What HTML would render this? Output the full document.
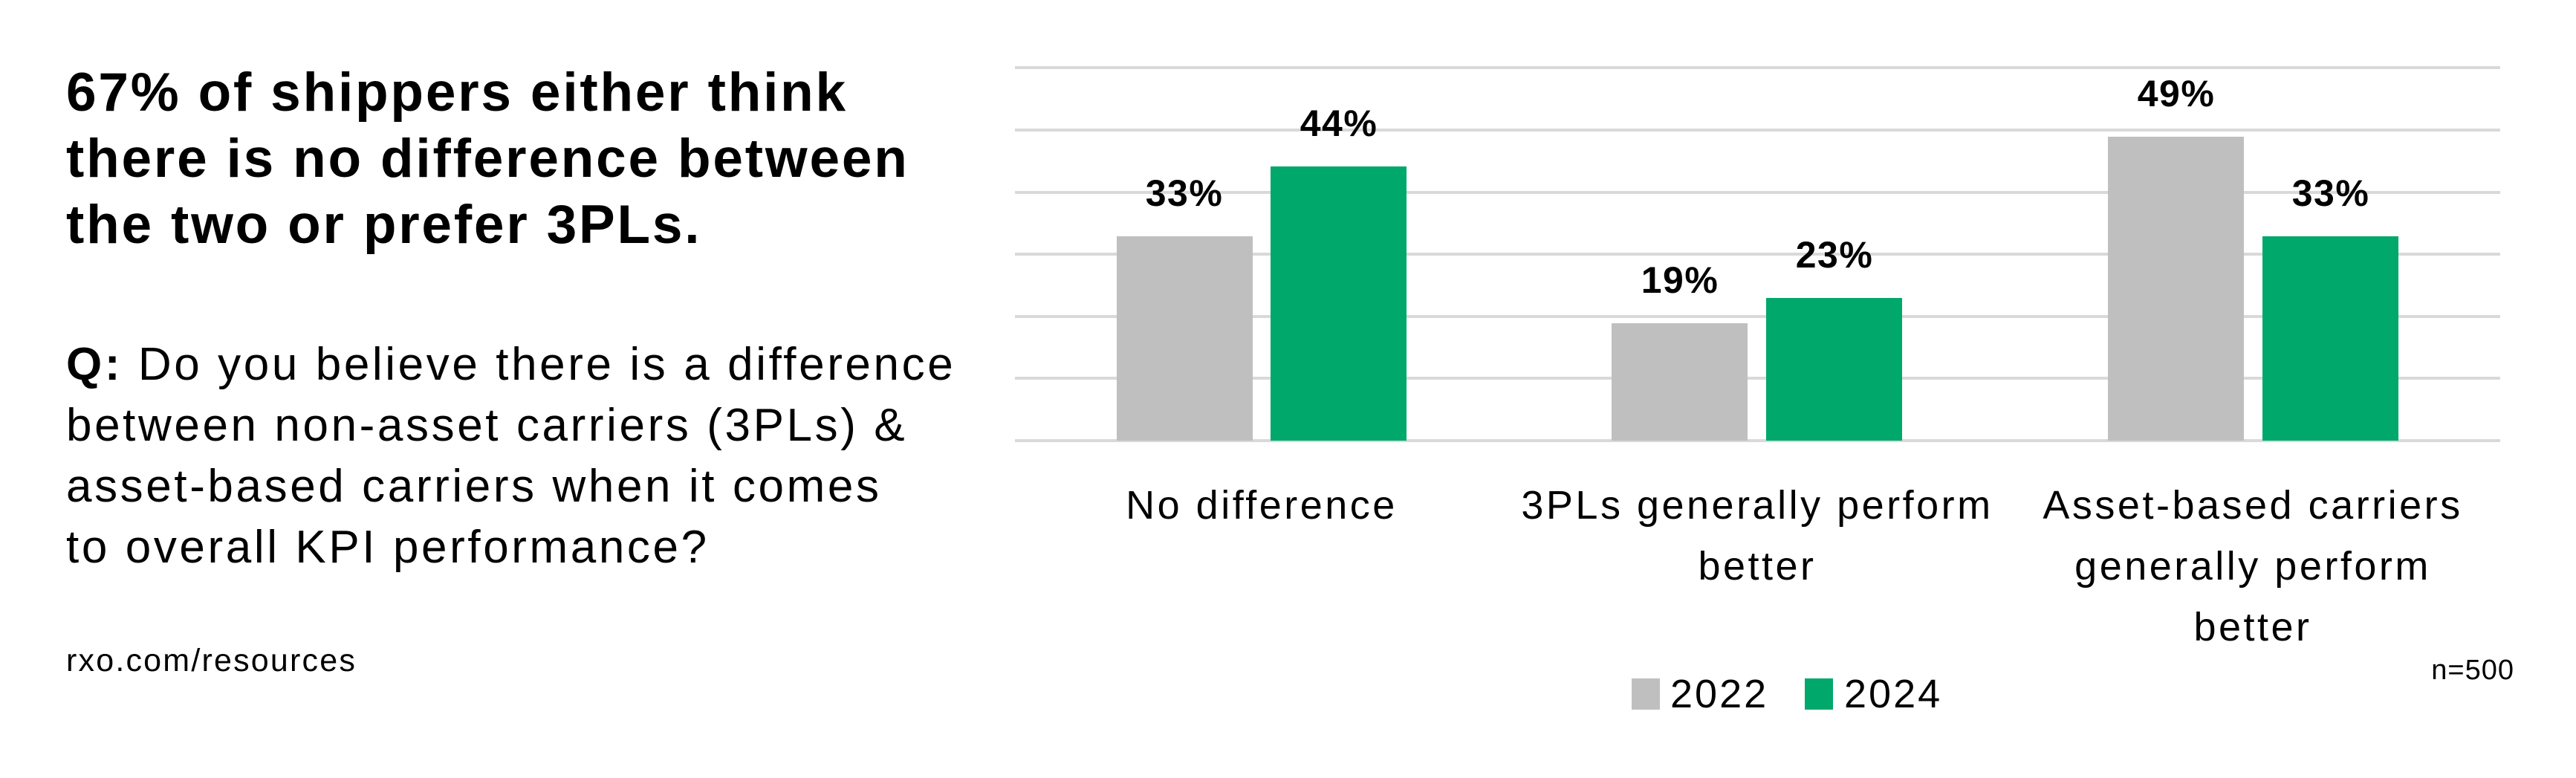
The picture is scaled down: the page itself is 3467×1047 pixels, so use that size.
<!DOCTYPE html>
<html><head><meta charset="utf-8"><style>
html,body{margin:0;padding:0;background:#fff;}
body{width:3467px;height:1047px;position:relative;overflow:hidden;font-family:"Liberation Sans",sans-serif;color:#000;}
.t{position:absolute;white-space:nowrap;}
</style></head><body>
<div class="t" style="left:89px;top:80px;font-size:73px;font-weight:bold;line-height:89px;letter-spacing:2.8px;">67% of shippers either think<br>there is no difference between<br>the two or prefer 3PLs.</div>
<div class="t" style="left:89px;top:450px;font-size:62px;line-height:82px;letter-spacing:3.6px;"><b>Q:</b> Do you believe there is a difference<br>between non-asset carriers (3PLs) &amp;<br>asset-based carriers when it comes<br>to overall KPI performance?</div>
<div class="t" style="left:89px;top:865px;font-size:43px;letter-spacing:2.2px;">rxo.com/resources</div>
<svg width="3467" height="1047" style="position:absolute;left:0;top:0" font-family="Liberation Sans, sans-serif">
<g stroke="#d9d9d9" stroke-width="4">
<line x1="1366" x2="3365" y1="91" y2="91"/><line x1="1366" x2="3365" y1="175" y2="175"/>
<line x1="1366" x2="3365" y1="259" y2="259"/><line x1="1366" x2="3365" y1="342" y2="342"/>
<line x1="1366" x2="3365" y1="426" y2="426"/><line x1="1366" x2="3365" y1="509" y2="509"/>
<line x1="1366" x2="3365" y1="593" y2="593"/></g>
<rect x="1503" y="318" width="183" height="275" fill="#bfbfbf"/>
<rect x="1710" y="224" width="183" height="369" fill="#00a86b"/>
<rect x="2169" y="435" width="183" height="158" fill="#bfbfbf"/>
<rect x="2377" y="401" width="183" height="192" fill="#00a86b"/>
<rect x="2837" y="184" width="183" height="409" fill="#bfbfbf"/>
<rect x="3045" y="318" width="183" height="275" fill="#00a86b"/>
<g font-size="50" font-weight="bold" text-anchor="middle" letter-spacing="1.5">
<text x="1594" y="277">33%</text><text x="1802" y="183">44%</text>
<text x="2261" y="394">19%</text><text x="2469" y="360">23%</text>
<text x="2929" y="143">49%</text><text x="3137" y="277">33%</text></g>
<g font-size="54" text-anchor="middle" letter-spacing="3.5">
<text x="1698" y="698">No difference</text>
<text x="2365" y="698">3PLs generally perform</text><text x="2365" y="780">better</text>
<text x="3032" y="698">Asset-based carriers</text><text x="3032" y="780">generally perform</text><text x="3032" y="862">better</text></g>
<g font-size="54" letter-spacing="3">
<text x="2248" y="952">2022</text><text x="2482" y="952">2024</text></g>
<rect x="2196" y="913" width="38" height="42" fill="#bfbfbf"/>
<rect x="2429" y="913" width="38" height="42" fill="#00a86b"/>
<text x="3384" y="914" font-size="38" text-anchor="end" letter-spacing="1">n=500</text>
</svg>
</body></html>
